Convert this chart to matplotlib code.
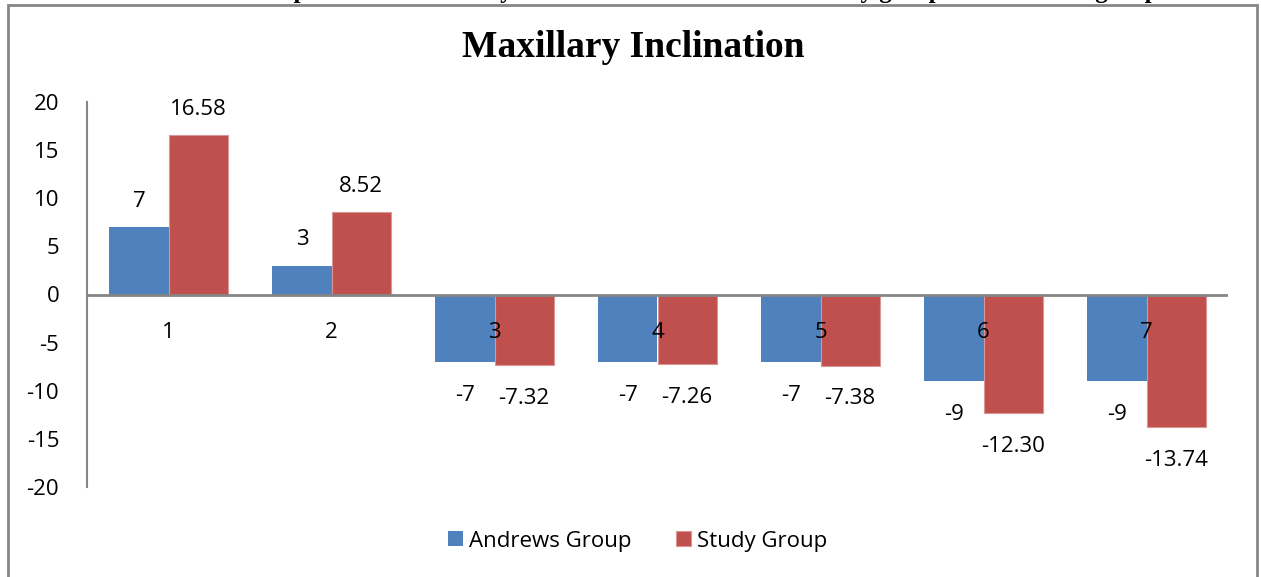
import matplotlib.pyplot as plt
import numpy as np
from matplotlib.patches import Rectangle

# Series
categorias = ['1', '2', '3', '4', '5', '6', '7']
andrews = [7, 3, -7, -7, -7, -9, -9]
estudo = [16.58, 8.52, -7.32, -7.26, -7.38, -12.30, -13.74]
rotulos_andrews = ['7', '3', '-7', '-7', '-7', '-9', '-9']
rotulos_estudo = ['16.58', '8.52', '-7.32', '-7.26', '-7.38', '-12.30', '-13.74']

cor_azul = '#4F81BD'
cor_vermelho = '#C0504D'
cor_eixo = '#868686'
fonte = 'Open Sans'
tam = 16

W, H = 1261, 577
fig = plt.figure(figsize=(W / 100, H / 100), dpi=100)
fig.patch.set_facecolor('white')

# moldura do gráfico
fig.patches.append(Rectangle((8 / W, -0.01), 1249 / W, 1.01 - 5 / H,
                             transform=fig.transFigure, fill=False,
                             edgecolor=cor_eixo, linewidth=2))

# legenda do documento, cortada no topo
fig.text(652 / W, 1 + 2 / H,
         'Chart 3: Comparison of Maxillary Crown Inclination between study group and Andrews group',
         ha='center', va='baseline', fontsize=18, fontweight='bold',
         family='Liberation Serif')

ax = fig.add_axes([87 / W, 1 - 487 / H, (1228 - 87) / W, (487 - 102) / H])

x = np.arange(len(categorias))
larg = 0.362
ax.bar(x - larg / 2, andrews, larg, color=cor_azul, label='Andrews Group')
ax.bar(x + larg / 2, estudo, larg, color=cor_vermelho, edgecolor='#D99694',
       linewidth=0.8, label='Study Group')

ax.set_xlim(-0.5, len(categorias) - 0.5)
ax.set_ylim(-20, 20)
ax.set_yticks(range(-20, 21, 5))
ax.tick_params(axis='y', length=0, pad=20, labelsize=tam)
ax.set_yticklabels([str(v) for v in range(-20, 21, 5)], family=fonte)
ax.set_xticks([])

for s in ['top', 'right', 'bottom']:
    ax.spines[s].set_visible(False)
ax.spines['left'].set_color(cor_eixo)
ax.spines['left'].set_linewidth(1.5)
ax.axhline(0, color=cor_eixo, linewidth=2)

# categorias logo abaixo da linha do zero
for xi, c in zip(x, categorias):
    ax.annotate(c, (xi, 0), xytext=(0, -27), textcoords='offset points',
                ha='center', va='center', fontsize=tam, family=fonte)

# rótulos de valores
def rotular(xs, vals, textos):
    for xi, v, t in zip(xs, vals, textos):
        dy = 18.5 if v >= 0 else -24
        ax.annotate(t, (xi, v), xytext=(0, dy), textcoords='offset points',
                    ha='center', va='center', fontsize=tam, family=fonte)

rotular(x - larg / 2, andrews, rotulos_andrews)
rotular(x + larg / 2, estudo, rotulos_estudo)

fig.text(633 / W, 1 - 57 / H, 'Maxillary Inclination', ha='center', va='baseline',
         fontsize=27, fontweight='bold', family='Liberation Serif')

fig.legend(loc='center', bbox_to_anchor=(638 / W, 1 - 541 / H), ncol=2,
           frameon=False, prop={'family': fonte, 'size': tam},
           handlelength=0.65, handleheight=0.65, handletextpad=0.3,
           columnspacing=2.0)

fig.savefig('out.png', dpi=100, facecolor='white')
